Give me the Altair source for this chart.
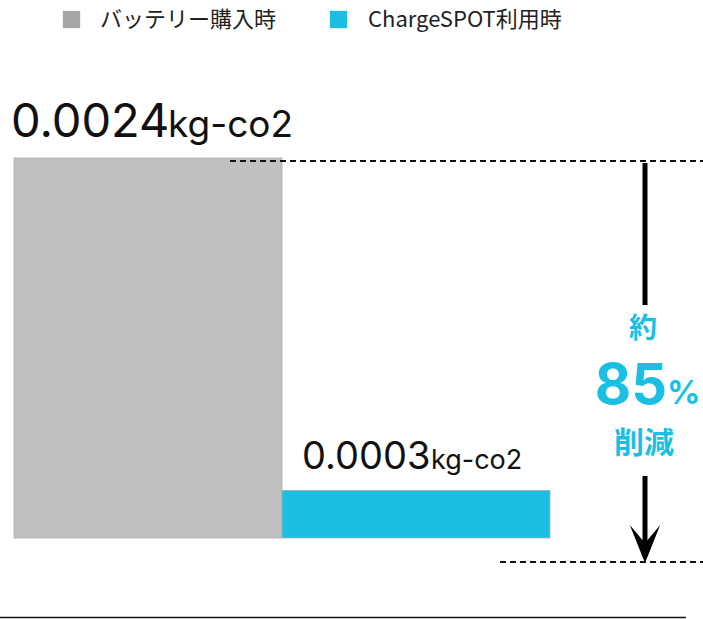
import altair as alt
import pandas as pd

# --- data -------------------------------------------------------------
categories = ["バッテリー購入時", "ChargeSPOT利用時"]
emissions = [0.0024, 0.0003]          # kg-CO2 per charge
unit_label = "kg-co2"
bar_colors = ["#c0c0c0", "#1cbfe4"]
legend_colors = ["#a6a6a6", "#1cbfe4"]
reduction_texts = ["約", "85", "%", "削減"]

df = pd.DataFrame({"cat": categories, "value": emissions})
one = pd.DataFrame({"k": [0]})

W, H = 703, 619
CYAN = "#1cbfe4"
NUM_FONT = "Inter"
JP_FONT = "Noto Sans CJK JP"

x_scale = alt.Scale(type="band", domain=categories, range=[14, 550],
                    paddingInner=0, paddingOuter=0)
y_scale = alt.Scale(domain=[0, 0.0024], range=[538, 158], nice=False, zero=True)

base = alt.Chart(df)

bars = base.mark_bar(stroke="#adadad", strokeWidth=1, strokeOpacity=0.8).encode(
    x=alt.X("cat:N", scale=x_scale, axis=None, sort=categories),
    y=alt.Y("value:Q", scale=y_scale, axis=None),
    color=alt.Color("cat:N", scale=alt.Scale(domain=categories, range=bar_colors),
                    legend=None),
)

# value labels above each bar: number + smaller unit
label_layers = []
label_style = [
    # (number size, unit size, number dx, unit dx, dy)
    (47, 37, -3, 154, -21),
    (38, 27, 20, 149, -22),
]
for cat, (nsize, usize, ndx, udx, dy) in zip(categories, label_style):
    sub = base.transform_filter(alt.datum.cat == cat)
    enc = dict(
        x=alt.X("cat:N", scale=x_scale, axis=None, sort=categories, bandPosition=0),
        y=alt.Y("value:Q", scale=y_scale, axis=None),
    )
    label_layers.append(
        sub.mark_text(align="left", baseline="alphabetic", font=NUM_FONT,
                      fontSize=nsize, dx=ndx, dy=dy, color="#111111").encode(
            text=alt.Text("value:Q", format=".4f"), **enc)
    )
    label_layers.append(
        sub.mark_text(align="left", baseline="alphabetic", font=NUM_FONT,
                      fontSize=usize, dx=udx, dy=dy, color="#111111",
                      text=unit_label).encode(**enc)
    )

# dashed guide lines and baseline
dash_top = alt.Chart(one).mark_rule(strokeDash=[6, 4], strokeWidth=2, color="#111").encode(
    x=alt.value(230), x2=alt.value(703), y=alt.value(161))
dash_bottom = alt.Chart(one).mark_rule(strokeDash=[6, 4], strokeWidth=2, color="#111").encode(
    x=alt.value(500), x2=alt.value(703), y=alt.value(562))
floor = alt.Chart(one).mark_rule(strokeWidth=1.5, color="#111").encode(
    x=alt.value(0), x2=alt.value(686), y=alt.value(617.5))

# arrow
stem_top = alt.Chart(one).mark_rule(strokeWidth=5, color="black").encode(
    x=alt.value(645), y=alt.value(163), y2=alt.value(305))
stem_bottom = alt.Chart(one).mark_rule(strokeWidth=5, color="black").encode(
    x=alt.value(645), y=alt.value(476), y2=alt.value(548))
head = alt.Chart(one).mark_point(
    shape="M0,1L-0.8,-1L0,-0.05L0.8,-1Z", filled=True, size=1444,
    color="black", opacity=1).encode(x=alt.value(645), y=alt.value(544))

# reduction callout
t_yaku = alt.Chart(one).mark_text(text=reduction_texts[0], font=JP_FONT, fontWeight="bold",
                                  fontSize=28, color=CYAN, align="center",
                                  baseline="middle").encode(
    x=alt.value(643), y=alt.value(330))
t_85 = alt.Chart(one).mark_text(text=reduction_texts[1], font=NUM_FONT, fontWeight="bold",
                                fontSize=56, color=CYAN, align="right",
                                baseline="alphabetic").encode(
    x=alt.value(667), y=alt.value(404))
t_pct = alt.Chart(one).mark_text(text=reduction_texts[2], font=NUM_FONT, fontWeight="bold",
                                 fontSize=33, color=CYAN, align="left",
                                 baseline="alphabetic").encode(
    x=alt.value(667), y=alt.value(404))
t_sakugen = alt.Chart(one).mark_text(text=reduction_texts[3], font=JP_FONT, fontWeight="bold",
                                     fontSize=30, color=CYAN, align="center",
                                     baseline="middle").encode(
    x=alt.value(644), y=alt.value(444))

# legend
legend_layers = []
for name, col, sx, tx in zip(categories, legend_colors, [71.5, 338.5], [100, 368]):
    legend_layers.append(
        alt.Chart(one).mark_square(size=300, color=col, opacity=1).encode(
            x=alt.value(sx), y=alt.value(19.5))
    )
    legend_layers.append(
        alt.Chart(one).mark_text(text=name, font=JP_FONT, fontSize=22, color="#222",
                                 align="left", baseline="middle").encode(
            x=alt.value(tx), y=alt.value(20))
    )

chart = alt.layer(
    bars, *label_layers, dash_top, dash_bottom, floor,
    stem_top, stem_bottom, head, t_yaku, t_85, t_pct, t_sakugen, *legend_layers,
).properties(
    width=W, height=H, padding=0, autosize=alt.AutoSizeParams(type="none"),
    background="white",
).configure_view(stroke=None)

chart.save("out.html", embed_options={"renderer": "svg", "actions": False})
